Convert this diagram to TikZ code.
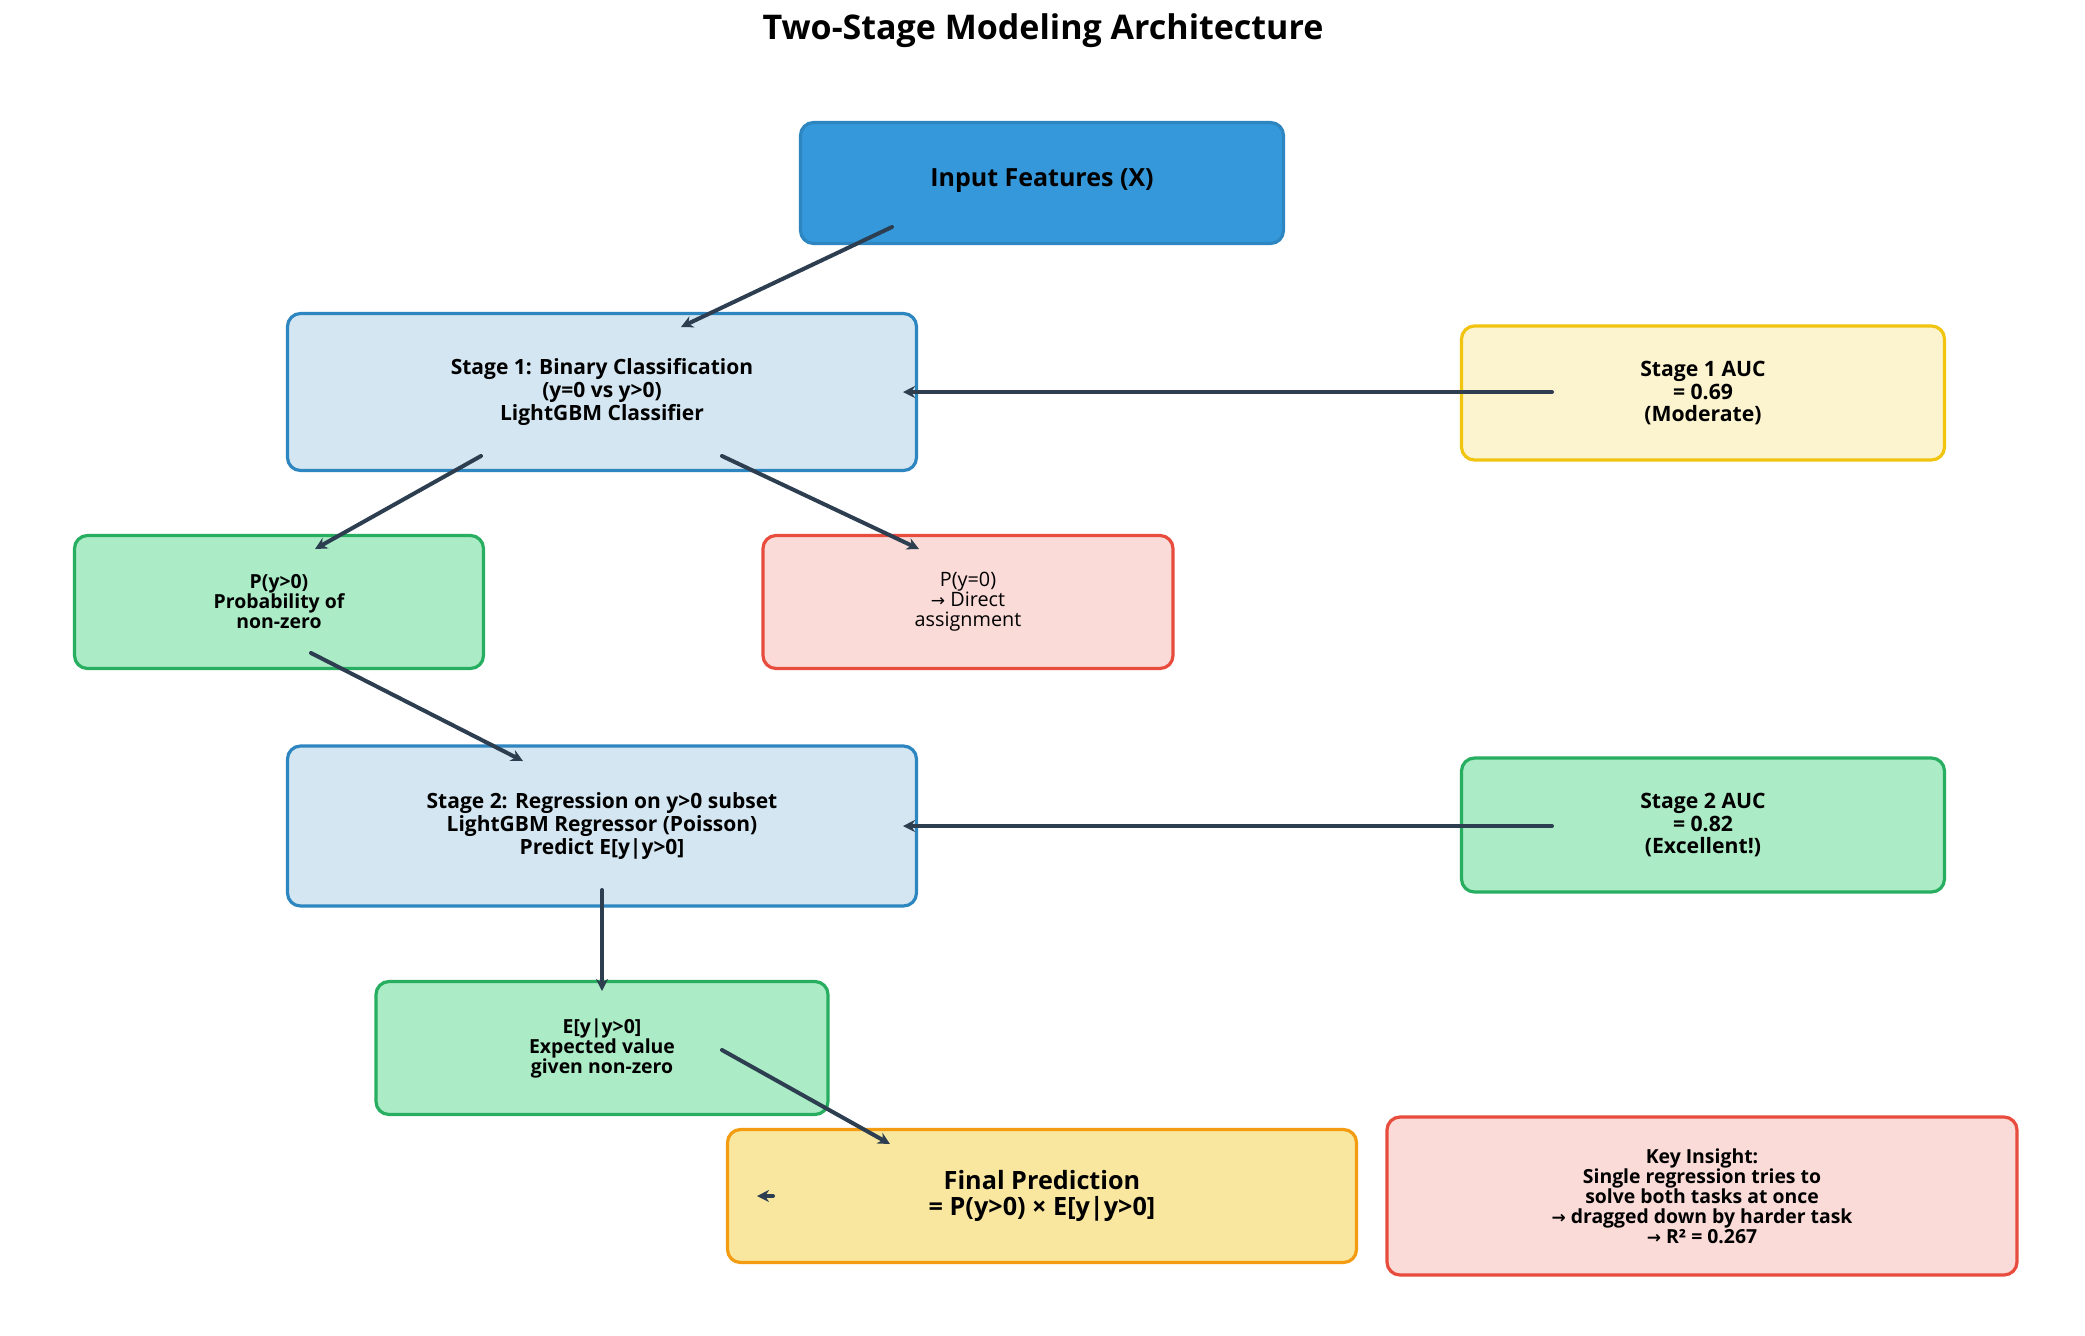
\documentclass[tikz,border=0pt]{standalone}
\usepackage{fontspec}
\setmainfont{Open Sans}
\newfontfamily\arr{DejaVu Sans}
\usetikzlibrary{arrows.meta}
\definecolor{inpfill}{HTML}{3498DB}
\definecolor{inpdraw}{HTML}{2E86C1}
\definecolor{stfill}{HTML}{D4E6F1}
\definecolor{yfill}{HTML}{FCF3CF}
\definecolor{ydraw}{HTML}{F1C40F}
\definecolor{gfill}{HTML}{ABEBC6}
\definecolor{gdraw}{HTML}{27AE60}
\definecolor{rfill}{HTML}{FADBD8}
\definecolor{rdraw}{HTML}{E74C3C}
\definecolor{ffill}{HTML}{F9E79F}
\definecolor{fdraw}{HTML}{F39C12}
\definecolor{arrc}{HTML}{2C3E50}
\tikzset{
  box/.style={rectangle, rounded corners=6.5pt, line width=1.6pt, inner sep=0pt, align=center, font=\bfseries},
  inbox/.style={box, fill=inpfill, draw=inpdraw},
  stbox/.style={box, fill=stfill, draw=inpdraw},
  ybox/.style={box, fill=yfill, draw=ydraw},
  gbox/.style={box, fill=gfill, draw=gdraw},
  rbox/.style={box, fill=rfill, draw=rdraw},
  fbox/.style={box, fill=ffill, draw=fdraw},
  conn/.style={draw=arrc, line width=2pt, line cap=round, -{Stealth[length=6pt,width=6pt]}},
  bigtxt/.style={font=\fontsize{10.5}{11.3}\selectfont\bfseries},
  auctxt/.style={font=\fontsize{10.6}{11.1}\selectfont\bfseries},
  smtxt/.style={font=\fontsize{9.7}{10}\selectfont\bfseries},
}
\begin{document}
\begin{tikzpicture}[x=0.5pt,y=-0.5pt]
\path[use as bounding box, fill=white] (0,0) rectangle (2085,1335);
\node[font=\fontsize{17}{19}\selectfont\bfseries] (title) at (1043,31) {Two-Stage Modeling Architecture};

\node[inbox, minimum width=241.5pt, minimum height=60.5pt] (inp) at (1042,183) {};
\node[font=\fontsize{12.5}{14}\selectfont\bfseries] (inpt) at (1042,181) {Input Features (X)};

\node[stbox, minimum width=314.5pt, minimum height=78.5pt, bigtxt] (s1) at (602,392) {Stage 1: Binary Classification\\(y=0 vs y>0)\\LightGBM Classifier};
\node[ybox, minimum width=241.5pt, minimum height=67pt, auctxt] (auc1) at (1703,393) {Stage 1 AUC\\= 0.69\\(Moderate)};

\node[gbox, minimum width=204.5pt, minimum height=66.5pt, smtxt] (py) at (279,602) {P(y>0)\\Probability of\\non-zero};
\node[rbox, minimum width=205pt, minimum height=66.5pt, font=\fontsize{9.9}{10}\selectfont] (p0) at (968,602) {P(y=0)\\{\arr\fontsize{8.5}{10}\selectfont →} Direct\\assignment};

\node[stbox, minimum width=314.5pt, minimum height=80pt, bigtxt] (s2) at (602,826) {Stage 2: Regression on y>0 subset\\LightGBM Regressor (Poisson)\\Predict E[y|y>0]};
\node[gbox, minimum width=241.5pt, minimum height=67pt, auctxt] (auc2) at (1703,825) {Stage 2 AUC\\= 0.82\\(Excellent!)};

\node[gbox, minimum width=226pt, minimum height=66.5pt, smtxt] (ey) at (602,1048) {E[y|y>0]\\Expected value\\given non-zero};

\node[fbox, minimum width=314.5pt, minimum height=66.5pt, font=\fontsize{12.6}{12.8}\selectfont\bfseries] (fin) at (1042,1196) {Final Prediction\\= P(y>0) × E[y|y>0]};

\node[rbox, minimum width=315pt, minimum height=79pt, smtxt] (key) at (1702,1196) {Key Insight:\\Single regression tries to\\solve both tasks at once\\{\arr\fontsize{8.5}{10}\selectfont →} dragged down by harder task\\{\arr\fontsize{8.5}{10}\selectfont →} R² = 0.267};

% connector end points
\coordinate (c1s) at (892,227);  \coordinate (c1e) at (681,327);
\coordinate (c2s) at (1552,392); \coordinate (c2e) at (903,392);
\coordinate (c3s) at (481,456);  \coordinate (c3e) at (315,549);
\coordinate (c4s) at (722,456);  \coordinate (c4e) at (919,549);
\coordinate (c5s) at (311,653);  \coordinate (c5e) at (523,761);
\coordinate (c6s) at (1552,826); \coordinate (c6e) at (903,826);
\coordinate (c7s) at (602,890);  \coordinate (c7e) at (602,991);
\coordinate (c8s) at (722,1050); \coordinate (c8e) at (890,1144);
\coordinate (c9s) at (773,1196); \coordinate (c9e) at (757,1196);

\draw[conn] (c1s) -- (c1e);
\draw[conn] (c2s) -- (c2e);
\draw[conn] (c3s) -- (c3e);
\draw[conn] (c4s) -- (c4e);
\draw[conn] (c5s) -- (c5e);
\draw[conn] (c6s) -- (c6e);
\draw[conn] (c7s) -- (c7e);
\draw[conn] (c8s) -- (c8e);
\draw[conn] (c9s) -- (c9e);
\end{tikzpicture}
\end{document}
